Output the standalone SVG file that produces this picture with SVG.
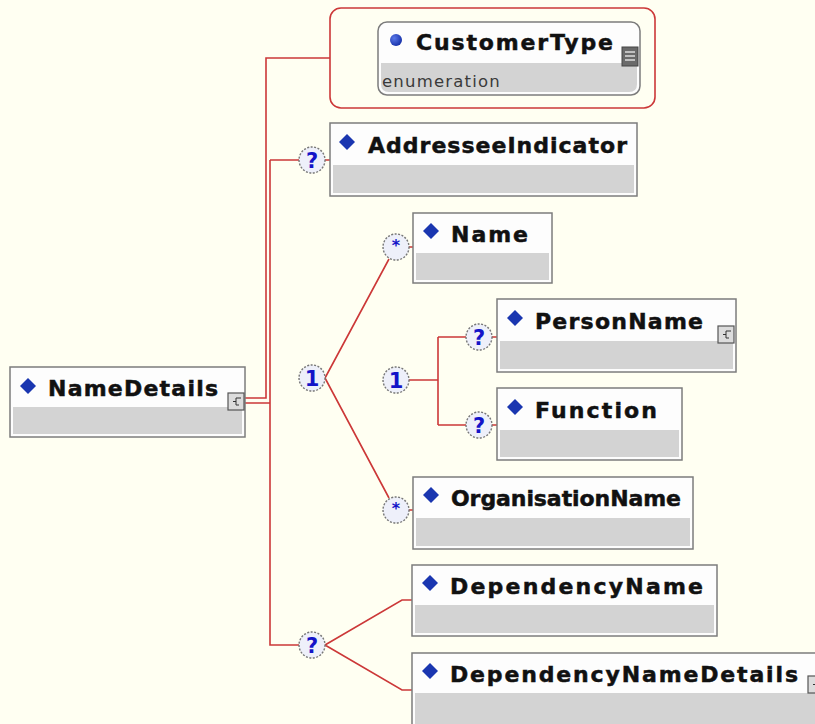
<svg xmlns="http://www.w3.org/2000/svg" width="815" height="724" viewBox="0 0 815 724">
  <defs>
    <style>
      .bg { fill: #fffff2; }
      .frame { fill: #fdfdfd; stroke: #7c7c7c; stroke-width: 1.5; }
      .band { fill: #d3d3d3; }
      .title { font-family: "DejaVu Sans", Verdana, sans-serif; font-weight: bold; font-size: 22px; fill: #111; stroke: #111; stroke-width: 0.5px; }
      .sub { font-family: "DejaVu Sans", Verdana, sans-serif; font-size: 16.5px; letter-spacing: 1.2px; fill: #3a3a3a; }
      .dia { fill: #1a36b0; }
      .wire { fill: none; stroke: #cc3838; stroke-width: 1.6; }
      .bubble { fill: #eef0fa; stroke: #777; stroke-width: 1.4; stroke-dasharray: 2 1.5; }
      .mark { font-family: "DejaVu Sans", Verdana, sans-serif; font-weight: bold; fill: #1414c8; text-anchor: middle; }
      .ico { fill: #dcdcdc; stroke: #555; stroke-width: 1.2; }
      .icoline { fill: none; stroke: #333; stroke-width: 1; }
    </style>
    <radialGradient id="ball" cx="0.35" cy="0.35" r="0.7">
      <stop offset="0" stop-color="#5a78e8"/>
      <stop offset="1" stop-color="#1630a8"/>
    </radialGradient>
    <!-- element marker diamond -->
    <polygon id="dmd" points="0,-8 8,0 0,8 -8,0"/>
    <!-- complex-type badge -->
    <g id="cx">
      <rect class="ico" x="0" y="0" width="16" height="17"/>
      <path class="icoline" d="M11,5 H8 V12 H11 M8,8.5 H5 M12,4 V6"/>
    </g>
  </defs>

  <rect class="bg" x="0" y="0" width="815" height="724"/>

  <!-- connectors -->
  <g id="connectors">
    <path class="wire" d="M245,398 H266 V58 H330"/>
    <path class="wire" d="M245,403 H270 M270,160 V645 H299"/>
    <path class="wire" d="M270,160 H299 M325,160 H330"/>
    <path class="wire" d="M325,378 L389,259 M325,378 L389,498"/>
    <path class="wire" d="M409,247 H413 M409,510 H413"/>
    <path class="wire" d="M409,380 H438 M438,337 V425 M438,337 H466 M438,425 H466 M492,337 H497 M492,425 H497"/>
    <path class="wire" d="M325,645 L402,600 H412 M325,645 L402,690 H412"/>
  </g>

  <!-- CustomerType (type reference) -->
  <g id="CustomerType">
    <rect x="330" y="8" width="325" height="100" rx="11" fill="none" stroke="#cc3838" stroke-width="1.6"/>
    <rect x="378" y="22" width="262" height="73" rx="9" fill="#fdfdfd" stroke="#7c7c7c" stroke-width="1.5"/>
    <path d="M381,63 H637 V84 Q637,92 629,92 H389 Q381,92 381,84 Z" fill="#d3d3d3"/>
    <circle cx="396" cy="40" r="6" fill="url(#ball)"/>
    <text class="title" x="416" y="50" textLength="197">CustomerType</text>
    <text class="sub" x="382" y="87">enumeration</text>
    <rect x="622" y="47" width="16" height="19" fill="#6a6a6a" stroke="#444" stroke-width="1"/>
    <path d="M625,52 H635 M625,56 H635 M625,60 H635" stroke="#ddd" stroke-width="1.3"/>
  </g>

  <g id="NameDetails">
    <rect class="frame" x="10" y="367" width="235" height="70"/>
    <rect class="band" x="13" y="407" width="229" height="27"/>
    <use href="#dmd" class="dia" x="28" y="386"/>
    <text class="title" x="48" y="396" textLength="170">NameDetails</text>
    <use href="#cx" x="228" y="393"/>
  </g>

  <g id="AddresseeIndicator">
    <rect class="frame" x="330" y="123" width="307" height="73"/>
    <rect class="band" x="333" y="165" width="301" height="28"/>
    <use href="#dmd" class="dia" x="347" y="142"/>
    <text class="title" x="368" y="153" textLength="259">AddresseeIndicator</text>
    <circle class="bubble" cx="312" cy="160" r="13"/>
    <text class="mark" x="312" y="168" font-size="21">?</text>
  </g>

  <g id="Name">
    <rect class="frame" x="413" y="213" width="139" height="70"/>
    <rect class="band" x="416" y="253" width="133" height="27"/>
    <use href="#dmd" class="dia" x="431" y="231"/>
    <text class="title" x="451" y="242" textLength="77">Name</text>
    <circle class="bubble" cx="396" cy="247" r="13"/>
    <text class="mark" x="396" y="251" font-size="16">*</text>
  </g>

  <g id="choice">
    <circle class="bubble" cx="312" cy="378" r="13"/>
    <text class="mark" x="312" y="386" font-size="21">1</text>
  </g>

  <g id="choice-person">
    <circle class="bubble" cx="396" cy="380" r="13"/>
    <text class="mark" x="396" y="388" font-size="21">1</text>
  </g>

  <g id="PersonName">
    <rect class="frame" x="497" y="299" width="239" height="73"/>
    <rect class="band" x="500" y="341" width="233" height="28"/>
    <use href="#dmd" class="dia" x="515" y="318"/>
    <text class="title" x="535" y="329" textLength="168">PersonName</text>
    <use href="#cx" x="718" y="326"/>
    <circle class="bubble" cx="479" cy="337" r="13"/>
    <text class="mark" x="479" y="345" font-size="21">?</text>
  </g>

  <g id="Function">
    <rect class="frame" x="497" y="388" width="185" height="72"/>
    <rect class="band" x="500" y="430" width="179" height="27"/>
    <use href="#dmd" class="dia" x="515" y="407"/>
    <text class="title" x="535" y="418" textLength="122">Function</text>
    <circle class="bubble" cx="479" cy="425" r="13"/>
    <text class="mark" x="479" y="433" font-size="21">?</text>
  </g>

  <g id="OrganisationName">
    <rect class="frame" x="413" y="477" width="280" height="72"/>
    <rect class="band" x="416" y="518" width="274" height="28"/>
    <use href="#dmd" class="dia" x="431" y="495"/>
    <text class="title" x="451" y="506" textLength="230">OrganisationName</text>
    <circle class="bubble" cx="396" cy="510" r="13"/>
    <text class="mark" x="396" y="514" font-size="16">*</text>
  </g>

  <g id="dependency-choice">
    <circle class="bubble" cx="312" cy="645" r="13"/>
    <text class="mark" x="312" y="653" font-size="21">?</text>
  </g>

  <g id="DependencyName">
    <rect class="frame" x="412" y="565" width="305" height="71"/>
    <rect class="band" x="415" y="605" width="299" height="28"/>
    <use href="#dmd" class="dia" x="430" y="583"/>
    <text class="title" x="450" y="594" textLength="253">DependencyName</text>
  </g>

  <g id="DependencyNameDetails">
    <rect class="frame" x="412" y="653" width="414" height="80"/>
    <rect class="band" x="415" y="693" width="408" height="40"/>
    <use href="#dmd" class="dia" x="430" y="671"/>
    <text class="title" x="450" y="682" textLength="348">DependencyNameDetails</text>
    <use href="#cx" x="808" y="676"/>
  </g>
</svg>
